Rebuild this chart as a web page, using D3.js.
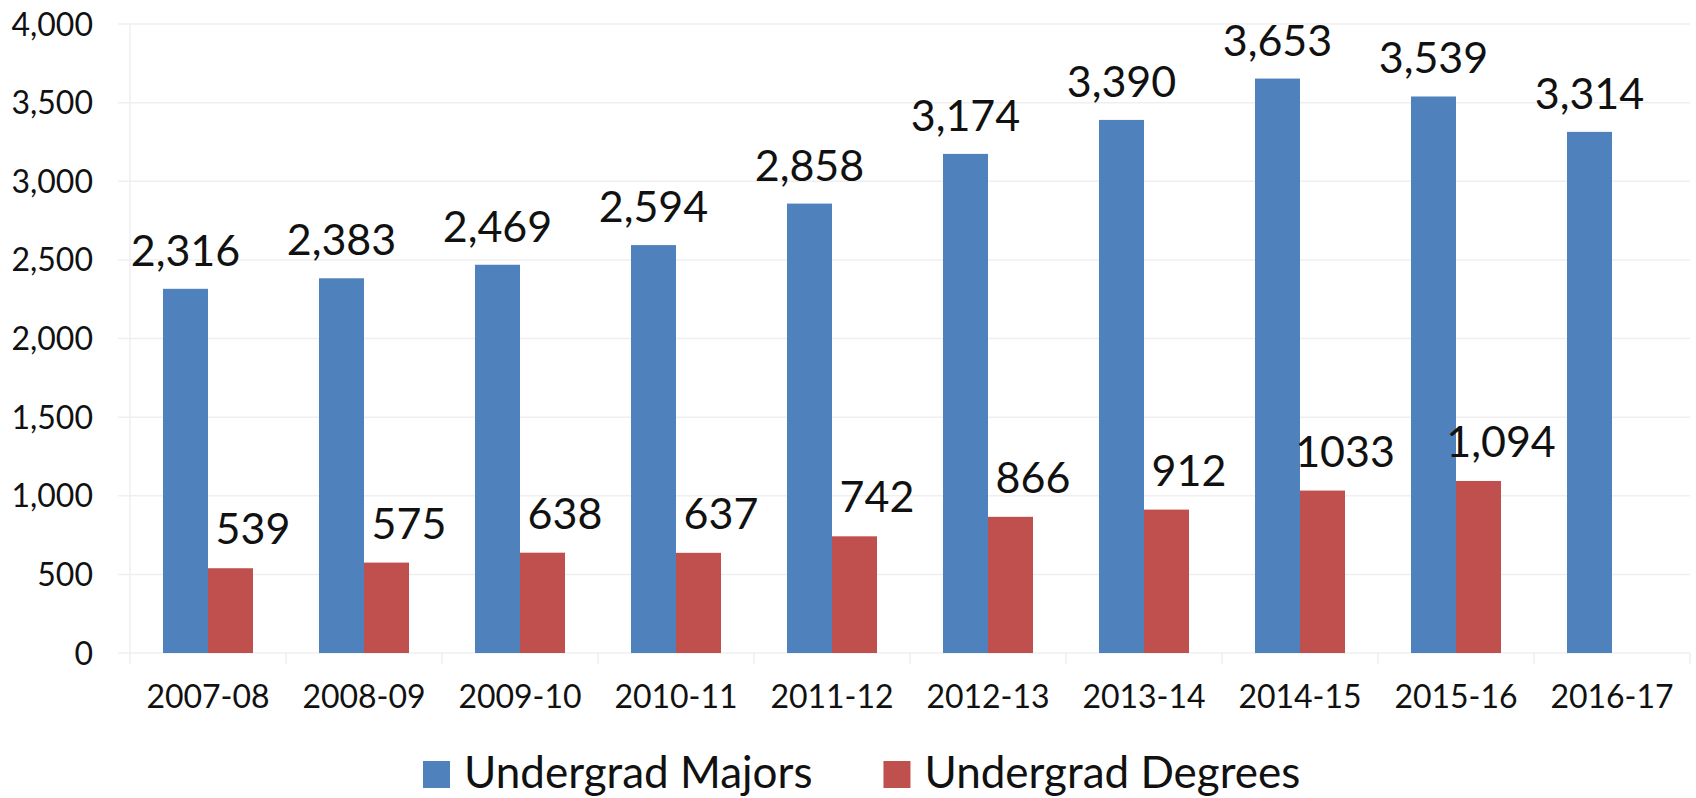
<!DOCTYPE html>
<html>
<head>
<meta charset="utf-8">
<script src="https://cdn.jsdelivr.net/npm/d3@7"></script>
<style>
  body { margin: 0; background: #fff; }
  text { font-family: Lato, "Open Sans", sans-serif; fill: #111; }
</style>
</head>
<body>
<svg id="chart"></svg>
<script>
var years = ["2007-08", "2008-09", "2009-10", "2010-11", "2011-12", "2012-13", "2013-14", "2014-15", "2015-16", "2016-17"];
var majors = [2316, 2383, 2469, 2594, 2858, 3174, 3390, 3653, 3539, 3314];
var degrees = [539, 575, 638, 637, 742, 866, 912, 1033, 1094, null];
// degree labels as printed on the original (one has no comma)
var degreeLabels = ["539", "575", "638", "637", "742", "866", "912", "1033", "1,094", ""];
var yTicks = [0, 500, 1000, 1500, 2000, 2500, 3000, 3500, 4000];
var seriesNames = ["Undergrad Majors", "Undergrad Degrees"];
var colors = ["#4F81BD", "#C0504D"];

var width = 1696, height = 798;
var margin = { top: 24, right: 6, bottom: 145, left: 130 };
var svg = d3.select("#chart").attr("width", width).attr("height", height);

var x0 = d3.scaleBand()
  .domain(years)
  .range([margin.left, width - margin.right])
  .padding(0);

var x1 = d3.scaleBand()
  .domain([0, 1])
  .range([0, x0.bandwidth()])
  .paddingInner(0)
  .paddingOuter(0.733);

var y = d3.scaleLinear()
  .domain([0, 4000])
  .range([height - margin.bottom, margin.top]);

// gridlines
svg.append("g")
  .selectAll("line")
  .data(yTicks)
  .enter()
  .append("line")
  .attr("x1", margin.left - 12)
  .attr("x2", width - margin.right)
  .attr("y1", function (d) { return y(d); })
  .attr("y2", function (d) { return y(d); })
  .attr("stroke", "#efefef")
  .attr("stroke-width", 1.5);

// y axis line
svg.append("line")
  .attr("x1", margin.left).attr("x2", margin.left)
  .attr("y1", y(4000)).attr("y2", y(0) + 11)
  .attr("stroke", "#efefef")
  .attr("stroke-width", 1.5);

// category tick marks below baseline
svg.append("g")
  .selectAll("line")
  .data(years)
  .enter()
  .append("line")
  .attr("x1", function (d) { return x0(d) + x0.step(); })
  .attr("x2", function (d) { return x0(d) + x0.step(); })
  .attr("y1", y(0))
  .attr("y2", y(0) + 11)
  .attr("stroke", "#efefef")
  .attr("stroke-width", 1.5);

// y labels
svg.append("g")
  .selectAll("text")
  .data(yTicks)
  .enter()
  .append("text")
  .attr("x", 93)
  .attr("y", function (d) { return y(d); })
  .attr("dy", "0.36em")
  .attr("text-anchor", "end")
  .style("font-size", "32px")
  .text(d3.format(","));

// x labels
svg.append("g")
  .selectAll("text")
  .data(years)
  .enter()
  .append("text")
  .attr("x", function (d) { return x0(d) + x0.bandwidth() / 2; })
  .attr("y", 708)
  .attr("text-anchor", "middle")
  .style("font-size", "32px")
  .text(function (d) { return d; });

// bars
var groups = svg.append("g")
  .selectAll("g")
  .data(years)
  .enter()
  .append("g")
  .attr("transform", function (d) { return "translate(" + x0(d) + ",0)"; });

groups.append("rect")
  .attr("x", x1(0))
  .attr("width", x1.bandwidth())
  .attr("y", function (d, i) { return y(majors[i]); })
  .attr("height", function (d, i) { return y(0) - y(majors[i]); })
  .attr("fill", colors[0]);

groups.filter(function (d, i) { return degrees[i] != null; })
  .append("rect")
  .attr("x", x1(1))
  .attr("width", x1.bandwidth())
  .attr("y", function (d) { return y(degrees[years.indexOf(d)]); })
  .attr("height", function (d) { return y(0) - y(degrees[years.indexOf(d)]); })
  .attr("fill", colors[1]);

// value labels
groups.append("text")
  .attr("x", x1(0) + x1.bandwidth() / 2)
  .attr("y", function (d, i) { return y(majors[i]) - 23; })
  .attr("text-anchor", "middle")
  .style("font-size", "43px")
  .text(function (d, i) { return d3.format(",")(majors[i]); });

groups.filter(function (d, i) { return degrees[i] != null; })
  .append("text")
  .attr("x", x1(1) + x1.bandwidth())
  .attr("y", function (d) { return y(degrees[years.indexOf(d)]) - 24; })
  .attr("text-anchor", "middle")
  .style("font-size", "43px")
  .text(function (d) { return degreeLabels[years.indexOf(d)]; });

// legend
var legend = svg.append("g");
var lx = 423;
seriesNames.forEach(function (name, i) {
  legend.append("rect")
    .attr("x", lx).attr("y", 761)
    .attr("width", 27).attr("height", 27)
    .attr("fill", colors[i]);
  var t = legend.append("text")
    .attr("x", lx + 41)
    .attr("y", 788)
    .style("font-size", "44px")
    .text(name);
  lx = lx + 41 + t.node().getComputedTextLength() + 71;
});
</script>
</body>
</html>
